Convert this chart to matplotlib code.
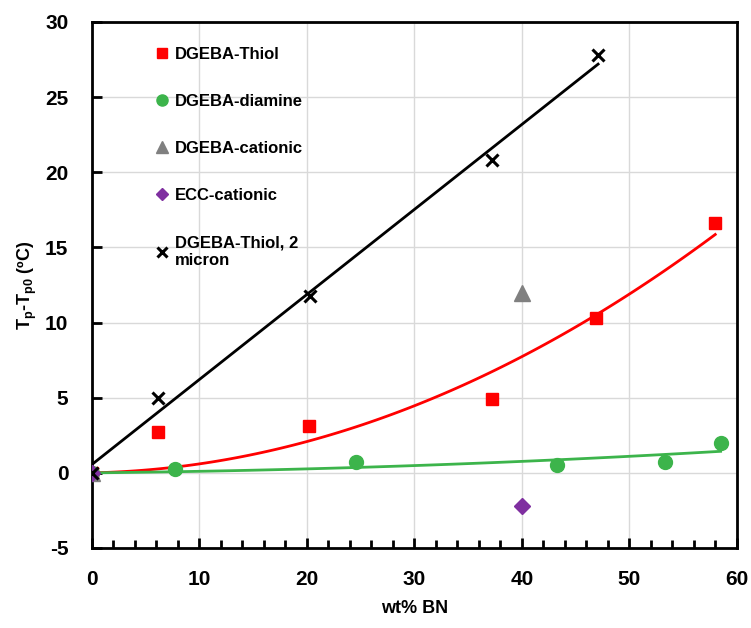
import numpy as np
import matplotlib.pyplot as plt
from matplotlib.ticker import MultipleLocator

plt.rcParams['font.family'] = ['Liberation Sans', 'DejaVu Sans']
plt.rcParams['font.weight'] = 'bold'
plt.rcParams['axes.unicode_minus'] = False
plt.rcParams['mathtext.fontset'] = 'custom'
plt.rcParams['mathtext.rm'] = 'Liberation Sans:bold'
plt.rcParams['mathtext.bf'] = 'Liberation Sans:bold'

# data
x_thiol = [0, 6.1, 20.2, 37.2, 46.9, 58.0]
y_thiol = [0, 2.7, 3.1, 4.9, 10.3, 16.6]

x_diamine = [0, 7.7, 24.6, 43.3, 53.3, 58.5]
y_diamine = [0, 0.27, 0.73, 0.5, 0.7, 2.0]

x_cationic = [0, 40.0]
y_cationic = [0, 12.0]

x_ecc = [0, 40.0]
y_ecc = [0, -2.2]

x_micron = [0, 6.1, 20.3, 37.2, 47.1]
y_micron = [0, 5.0, 11.8, 20.8, 27.8]


def fit_origin(x, y, deg):
    # polynomial trend line with intercept set to 0
    x = np.asarray(x, float)
    A = np.column_stack([x ** k for k in range(1, deg + 1)])
    c, *_ = np.linalg.lstsq(A, np.asarray(y, float), rcond=None)
    return lambda t: sum(c[k] * t ** (k + 1) for k in range(deg))


fig = plt.figure(figsize=(7.51, 6.28), dpi=100)
ax = fig.add_axes([0.1225, 0.1274, 0.8585, 0.8376])

xs = np.linspace(0, max(x_thiol), 100)
ax.plot(xs, fit_origin(x_thiol, y_thiol, 2)(xs), color='#ff0000', lw=2, zorder=3)

xs = np.linspace(0, max(x_diamine), 100)
ax.plot(xs, fit_origin(x_diamine, y_diamine, 2)(xs), color='#3cb44b', lw=2, zorder=3)

xs = np.linspace(0, max(x_micron), 100)
p = np.polyfit(x_micron, y_micron, 1)
ax.plot(xs, np.polyval(p, xs), color='black', lw=2, zorder=3)

ax.plot(x_thiol, y_thiol, 's', color='#ff0000', ms=9, ls='none', label='DGEBA-Thiol', zorder=4)
ax.plot(x_diamine, y_diamine, 'o', color='#3cb44b', ms=10, ls='none', label='DGEBA-diamine', zorder=4)
ax.plot(x_cationic, y_cationic, '^', color='#808080', ms=11, ls='none', label='DGEBA-cationic', zorder=4)
ax.plot(x_ecc, y_ecc, 'D', color='#7f2fa0', ms=8, ls='none', label='ECC-cationic', zorder=4)
ax.plot(x_micron, y_micron, 'x', color='black', ms=9, mew=2.2, ls='none',
        label='DGEBA-Thiol, 2\nmicron', zorder=5)

ax.set_xlim(0, 60)
ax.set_ylim(-5, 30)
ax.xaxis.set_major_locator(MultipleLocator(10))
ax.xaxis.set_minor_locator(MultipleLocator(2))
ax.yaxis.set_major_locator(MultipleLocator(5))
ax.grid(True, which='major', color='#d9d9d9', lw=1)
ax.set_axisbelow(True)

for s in ax.spines.values():
    s.set_linewidth(2)
ax.tick_params(axis='x', which='major', direction='in', length=7, width=2, pad=16, labelsize=15)
ax.tick_params(axis='x', which='minor', direction='in', length=6, width=2)
ax.tick_params(axis='y', which='major', direction='in', length=7, width=2, pad=17, labelsize=15)

ax.set_xlabel('wt% BN', fontsize=13, fontweight='bold', labelpad=8)
ax.set_ylabel(r'T$_\mathrm{p}$-T$_\mathrm{p0}$ (ºC)', fontsize=13, fontweight='bold', labelpad=4)

ax.legend(loc='upper left', bbox_to_anchor=(0.086, 0.968), frameon=False,
          fontsize=12, handlelength=0.7, handletextpad=0.45, labelspacing=1.92,
          borderpad=0, markerscale=0.8)

fig.savefig('out.png', dpi=100)
